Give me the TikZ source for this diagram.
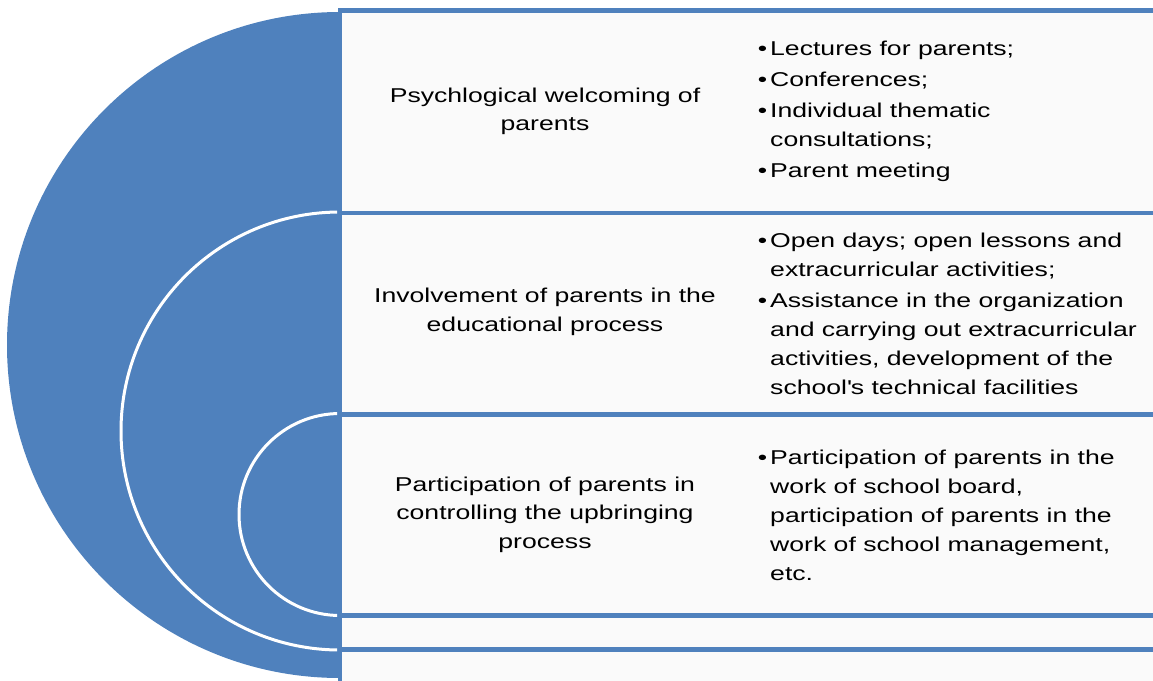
\documentclass[tikz,border=0pt]{standalone}
\usepackage{fontspec}
\setmainfont{Liberation Sans}[FakeStretch=1.33]
\definecolor{ringblue}{HTML}{4F81BD}
\definecolor{panelgray}{HTML}{FAFAFA}
\newcommand\itemdot{\makebox[0pt][r]{\textbullet\hspace{3pt}}}
\begin{document}
\begin{tikzpicture}[x=1pt,y=-1pt,
  lefttext/.style={align=center,font=\fontsize{20}{28.5}\selectfont,inner sep=0pt},
  itemlist/.style={align=left,anchor=west,font=\fontsize{20}{29}\selectfont,inner sep=0pt},
  bandline/.style={draw=ringblue,line width=4.5pt},
  ring/.style={draw=white,line width=3pt}]
\useasboundingbox (0,0) rectangle (1153,680);
\clip (0,0) rectangle (1153,680);
% nested target on the left
\begin{scope}
  \clip (0,0) rectangle (340,680);
  \fill[ringblue] (340,345) circle[radius=333];
\end{scope}
\begin{scope}
  \clip (0,0) rectangle (337,680);
  \draw[ring] (340,431) circle[radius=219];
  \draw[ring] (340,514.5) circle[radius=101];
\end{scope}
% list panel
\fill[panelgray] (340,10.5) rectangle (1160,690);
\draw[bandline] (340,690) -- (340,10.5) -- (1160,10.5);
\foreach \y in {213,414.5,615.5,649.5}
  \draw[bandline] (338,\y) -- (1160,\y);
% row texts
\node[lefttext] (t1) at (545,111.5) {Psychlogical welcoming of\\parents};
\node[lefttext] (t2) at (545,312) {Involvement of parents in the\\educational process};
\node[lefttext] (t3) at (545,514.5) {Participation of parents in\\controlling the upbringing\\process};
\node[itemlist] (b1) at (770,111.5) {\itemdot Lectures for parents;\\[2pt]
  \itemdot Conferences;\\[2pt]
  \itemdot Individual thematic\\consultations;\\[2pt]
  \itemdot Parent meeting};
\node[itemlist] (b2) at (770,313.5) {\itemdot Open days; open lessons and\\extracurricular activities;\\[2pt]
  \itemdot Assistance in the organization\\and carrying out extracurricular\\activities, development of the\\school\textquotesingle s technical facilities};
\node[itemlist] (b3) at (770,515.5) {\itemdot Participation of parents in the\\work of school board,\\participation of parents in the\\work of school management,\\etc.};
\end{tikzpicture}
\end{document}
